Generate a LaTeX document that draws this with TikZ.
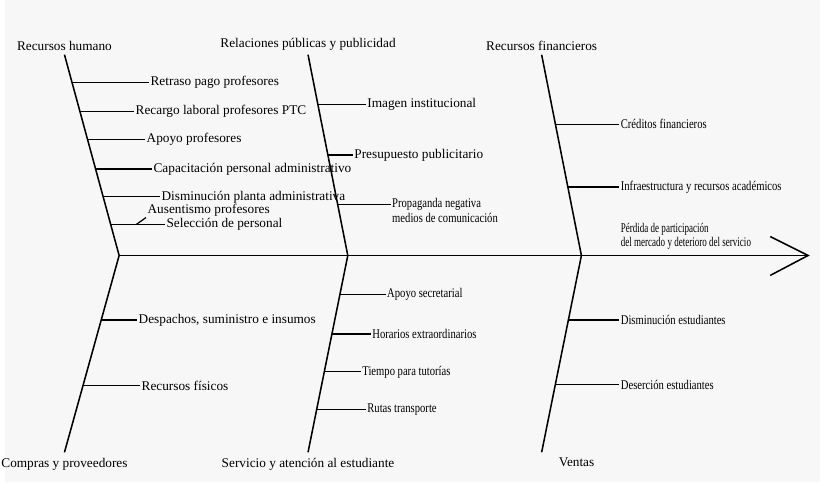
\documentclass[tikz,border=0pt]{standalone}
\usepackage{fontspec}
\setmainfont{Liberation Serif}
\newfontfamily\narrowfont[FakeStretch=0.8]{Liberation Serif}
\newfontfamily\narrowerfont[FakeStretch=0.68]{Liberation Serif}
\usetikzlibrary{positioning}

\begin{document}
\begin{tikzpicture}[x=0.025cm, y=-0.025cm, bone/.style={line width=1.1pt}, twig/.style={line width=0.9pt}, lbl/.style={font=\fontsize{9.5}{10.5}\selectfont, inner sep=1pt}, cause/.style={lbl, anchor=west}, small/.style={font=\fontsize{9.5}{10.5}\selectfont\narrowfont}]
	\fill[gray!6] (0,0) rectangle (820,485);

	% spine and head
	\coordinate (S) at (115,257);
	\coordinate (M) at (345,257);
	\coordinate (R) at (580,257);
	\coordinate (E) at (808,257);
	\draw[bone] (S) -- (E);
	\draw[bone] (770,238) coordinate (E1) -- (E) -- (770,277) coordinate (E2);
	\node [cause, font=\fontsize{9.5}{10.5}\selectfont\narrowerfont, align=left, anchor=south west] (effect) at (618,253) {P\'erdida de participaci\'on\\del mercado y deterioro del servicio};

	% bones
	\coordinate (TL) at (60,55);
	\coordinate (TM) at (305,55);
	\coordinate (TR) at (540,55);
	\coordinate (BL) at (60,455);
	\coordinate (BM) at (305,455);
	\coordinate (BR) at (540,455);
	\draw[bone] (TL) -- (S) -- (BL);
	\draw[bone] (TM) -- (M) -- (BM);
	\draw[bone] (TR) -- (R) -- (BR);
	\node [lbl, above=2pt of TL] (rh) {Recursos humano};
	\node [lbl, above=2pt of TM] (rp) {Relaciones p\'ublicas y publicidad};
	\node [lbl, above=2pt of TR] (rf) {Recursos financieros};
	\node [lbl, below=3pt of BL] (cp) {Compras y proveedores};
	\node [lbl, below=3pt of BM] (sa) {Servicio y atenci\'on al estudiante};
	\node [lbl, below=3pt of BR, xshift=25] (ve) {Ventas};

	% recursos humano
	\node [cause] (h1) at (145,83) {Retraso pago profesores};
	\node [cause] (h2) at (130,112) {Recargo laboral profesores PTC};
	\node [cause] (h3) at (141,140) {Apoyo profesores};
	\node [cause] (h4) at (148,170) {Capacitaci\'on personal administrativo};
	\node [cause] (h5) at (156,198) {Disminuci\'on planta administrativa};
	\node [cause] (h6) at (161,226) {Selecci\'on de personal};
	\node [cause] (h7) at (142,211) {Ausentismo profesores};
	\draw[twig] (67.6,83) -- (h1);
	\draw[twig] (75.5,112) -- (h2);
	\draw[twig] (83.1,140) -- (h3);
	\draw[twig] (91.3,170) -- (h4);
	\draw[twig] (98.9,198) -- (h5);
	\draw[twig] (106.6,226) -- (h6);
	\draw[twig] (132,226) -- (h7.south west);

	% relaciones publicas
	\node [cause] (p1) at (363,105) {Imagen institucional};
	\node [cause] (p2) at (350,156) {Presupuesto publicitario};
	\node [cause, small, align=left] (p3) at (388,212) {Propaganda negativa\\medios de comunicaci\'on};
	\draw[twig] (314.9,105) -- (p1);
	\draw[twig] (325,156) -- (p2);
	\draw[twig] (334.9,206) -- (p3.west |- 0,206);

	% recursos financieros
	\node [cause, small] (f1) at (618,125) {Cr\'editos financieros};
	\node [cause, small] (f2) at (618,188) {Infraestructura y recursos acad\'emicos};
	\draw[twig] (553.9,125) -- (f1);
	\draw[twig] (566.3,188) -- (f2);

	% compras
	\node [cause] (c1) at (133,322) {Despachos, suministro e insumos};
	\node [cause] (c2) at (136,388) {Recursos f\'isicos};
	\draw[twig] (97,322) -- (c1);
	\draw[twig] (78.6,388) -- (c2);

	% servicio
	\node [cause, small] (s1) at (383,296) {Apoyo secretarial};
	\node [cause, small] (s2) at (368,336) {Horarios extraordinarios};
	\node [cause, small] (s3) at (358,374) {Tiempo para tutor\'ias};
	\node [cause, small] (s4) at (363,412) {Rutas transporte};
	\draw[twig] (337.1,296) -- (s1);
	\draw[twig] (329,336) -- (s2);
	\draw[twig] (321.4,374) -- (s3);
	\draw[twig] (313.7,412) -- (s4);

	% ventas
	\node [cause, small] (v1) at (618,322) {Disminuci\'on estudiantes};
	\node [cause, small] (v2) at (618,387) {Deserci\'on estudiantes};
	\draw[twig] (566.9,322) -- (v1);
	\draw[twig] (553.7,387) -- (v2);
\end{tikzpicture}
\end{document}
